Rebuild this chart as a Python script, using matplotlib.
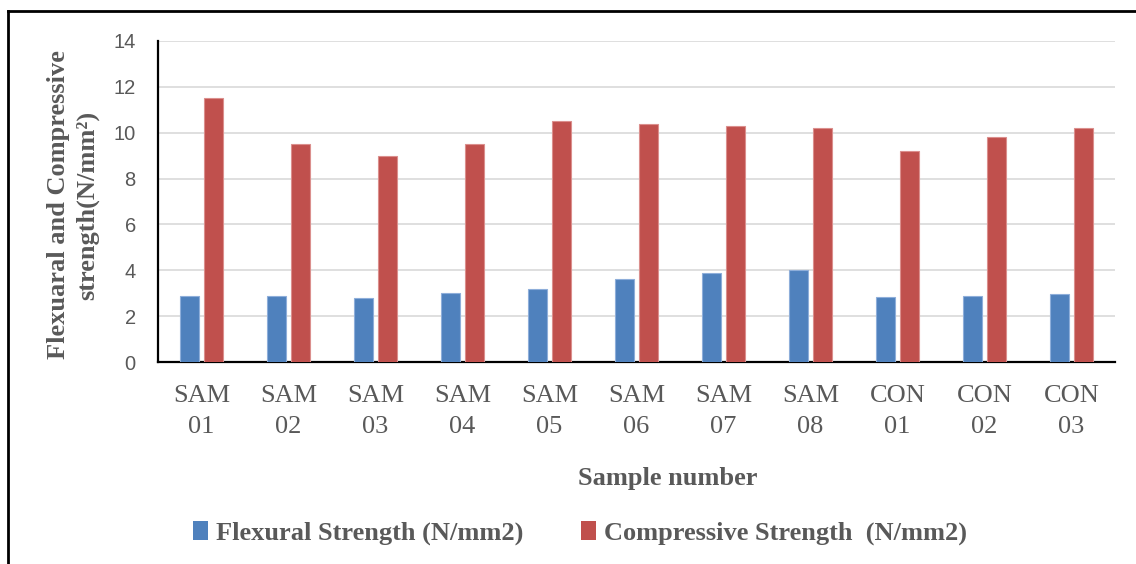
import matplotlib
matplotlib.use("Agg")
import matplotlib.pyplot as plt
from matplotlib.lines import Line2D
from matplotlib.patches import Patch
import numpy as np

categories = ["SAM\n01", "SAM\n02", "SAM\n03", "SAM\n04", "SAM\n05", "SAM\n06",
              "SAM\n07", "SAM\n08", "CON\n01", "CON\n02", "CON\n03"]
flexural = [2.9, 2.9, 2.8, 3.0, 3.2, 3.6, 3.9, 4.0, 2.85, 2.9, 2.95]
compressive = [11.5, 9.5, 9.0, 9.5, 10.5, 10.4, 10.3, 10.2, 9.2, 9.8, 10.2]
series_names = ["Flexural Strength (N/mm2)", "Compressive Strength  (N/mm2)"]
y_ticks = [0, 2, 4, 6, 8, 10, 12, 14]

blue = "#4F81BD"
red = "#C0504D"
gray = "#595959"
serif = ["Liberation Serif", "DejaVu Serif"]

fig = plt.figure(figsize=(11.36, 5.64), dpi=100)
ax = fig.add_axes([158/1136, 1-362/564, (1115-158)/1136, (362-41)/564])

x = np.arange(len(categories))
w = 0.22
off = 0.14
ax.bar(x - off, flexural, w, color=blue, edgecolor="#8EAEDA", linewidth=0.8, zorder=3)
ax.bar(x + off, compressive, w, color=red, edgecolor="#DB8F8D", linewidth=0.8, zorder=3)

ax.set_xlim(-0.5, len(categories) - 0.5)
ax.set_ylim(0, 14)
ax.set_yticks(y_ticks)
ax.set_yticklabels([str(v) for v in y_ticks], family="Liberation Sans", fontsize=14.5, color=gray)
ax.set_xticks(x)
ax.set_xticklabels(categories, family=serif, fontsize=19, color=gray, linespacing=1.55)
ax.tick_params(axis="both", length=0)
ax.tick_params(axis="x", pad=16.5)
ax.tick_params(axis="y", pad=16)
ax.yaxis.grid(True, color="#D9D9D9", linewidth=1.2, zorder=0)
ax.set_axisbelow(True)
for s in ["top", "right"]:
    ax.spines[s].set_visible(False)
for s in ["left", "bottom"]:
    ax.spines[s].set_color("black")
    ax.spines[s].set_linewidth(1.6)

fig.text(73/1136, 1-205/564, "Flexuaral and Compressive\nstrength(N/mm\u00b2)", rotation=90,
         ha="center", va="center", family=serif, fontweight="bold", fontsize=19,
         color=gray, multialignment="center", linespacing=1.3)
fig.text(668/1136, 1-479/564, "Sample number", ha="center", va="center",
         family=serif, fontweight="bold", fontsize=19, color=gray)

handles = [Patch(facecolor=blue, edgecolor="none"), Patch(facecolor=red, edgecolor="none")]
leg = fig.legend(handles, series_names, loc="center", bbox_to_anchor=(580/1136, 1-533/564),
                 ncol=2, frameon=False, handlelength=0.55, handleheight=0.75, handletextpad=0.3,
                 columnspacing=2.2, prop={"family": serif, "weight": "bold", "size": 19})
for t in leg.get_texts():
    t.set_color(gray)

fig.add_artist(Line2D([8/1136, 8/1136], [0, 1-11/564], color="black", linewidth=2))
fig.add_artist(Line2D([8/1136, 1], [1-11/564, 1-11/564], color="black", linewidth=2))

fig.savefig("out.png", dpi=100)
